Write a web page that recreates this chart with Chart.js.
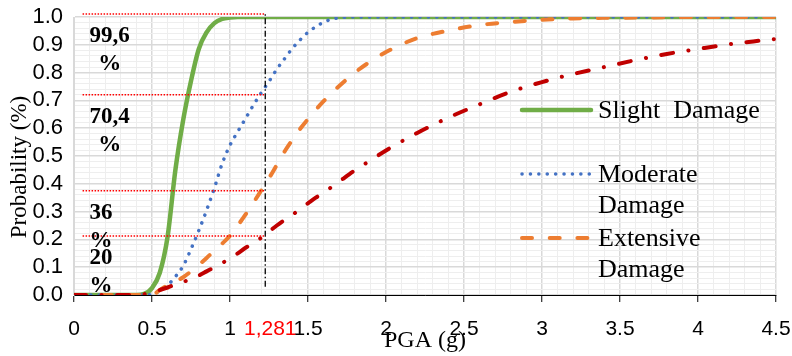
<!DOCTYPE html>
<html>
<head>
<meta charset="utf-8">
<title>Fragility curves</title>
<script src="https://cdn.jsdelivr.net/npm/chart.js@4.4.1/dist/chart.umd.min.js"></script>
<style>
  html, body { margin: 0; padding: 0; background: #fff; }
  canvas { display: block; }
</style>
</head>
<body>
<canvas id="fragility" width="792" height="356"></canvas>
<script>
// PGA (g) sample points shared by all curves
var pga = [0, 0.1, 0.2, 0.3, 0.4, 0.45, 0.5, 0.55, 0.6, 0.65, 0.7, 0.75, 0.8, 0.85, 0.9, 0.95,
  1.0, 1.05, 1.1, 1.15, 1.2, 1.25, 1.3, 1.35, 1.4, 1.45, 1.5, 1.55, 1.6, 1.65, 1.7, 1.8, 1.9, 2.0,
  2.2, 2.4, 2.6, 2.8, 3.0, 3.2, 3.4, 3.6, 3.8, 4.0, 4.2, 4.4, 4.5];

// probability of exceedance
var slightDamage = [0, 0, 0, 0, 0, 0.004, 0.025, 0.08, 0.21, 0.45, 0.63, 0.77, 0.885, 0.945, 0.978, 0.993,
  0.998, 1, 1, 1, 1, 1, 1, 1, 1, 1, 1, 1, 1, 1, 1, 1, 1, 1,
  1, 1, 1, 1, 1, 1, 1, 1, 1, 1, 1, 1, 1];
var moderateDamage = [0, 0, 0, 0, 0, 0, 0.003, 0.015, 0.035, 0.066, 0.105, 0.165, 0.232, 0.305, 0.385, 0.473,
  0.539, 0.588, 0.635, 0.683, 0.727, 0.768, 0.812, 0.85, 0.887, 0.918, 0.945, 0.965, 0.981, 0.992, 0.997, 1, 1, 1,
  1, 1, 1, 1, 1, 1, 1, 1, 1, 1, 1, 1, 1];
var extensiveDamage = [0, 0, 0, 0, 0, 0, 0, 0.018, 0.035, 0.048, 0.064, 0.085, 0.108, 0.133, 0.16, 0.185,
  0.213, 0.25, 0.29, 0.332, 0.376, 0.42, 0.468, 0.516, 0.558, 0.598, 0.633, 0.666, 0.697, 0.726, 0.752, 0.8, 0.84, 0.874,
  0.924, 0.951, 0.971, 0.982, 0.99, 0.995, 0.997, 0.998, 0.999, 1, 1, 1, 1];
var completeDamage = [0, 0, 0, 0, 0, 0.003, 0.01, 0.018, 0.027, 0.038, 0.047, 0.058, 0.07, 0.085, 0.1, 0.115,
  0.132, 0.15, 0.17, 0.186, 0.206, 0.228, 0.25, 0.27, 0.288, 0.31, 0.33, 0.35, 0.368, 0.388, 0.408, 0.448, 0.484, 0.52,
  0.583, 0.638, 0.686, 0.731, 0.766, 0.795, 0.82, 0.845, 0.867, 0.885, 0.902, 0.915, 0.921];

// reference marks at PGA = 1,281 g
var markerPga = 1.226;
var markerStart = 0.055;
var markerLevels = [1.011, 0.72, 0.375, 0.212];
var markerLabels = [['99,6', '%'], ['70,4', '%'], ['36', '%'], ['20', '%']];
var markerText = '1,281';

var legendNames = [['Slight  Damage'], ['Moderate', 'Damage'], ['Extensive', 'Damage']];

var serif = '"Liberation Serif", "Times New Roman", serif';
var sans = '"Liberation Sans", Arial, sans-serif';

var styles = [
  {color: '#70AD47', width: 4.5, dash: []},
  {color: '#4472C4', width: 3.5, dash: [0.1, 8.3]},
  {color: '#ED7D31', width: 4, dash: [10, 17.7]},
  {color: '#C00000', width: 4, dash: [12, 15.5, 0.1, 15.5]}
];

function points(values) {
  return pga.map(function(x, i) { return {x: x, y: values[i]}; });
}

function onStep(v, step) {
  var r = v / step;
  return Math.abs(r - Math.round(r)) < 1e-6;
}

function curve(label, values, style, order) {
  return {
    label: label,
    data: points(values),
    borderColor: style.color,
    borderWidth: style.width,
    borderDash: style.dash,
    borderCapStyle: 'round',
    cubicInterpolationMode: 'monotone',
    pointRadius: 0,
    fill: false,
    order: order
  };
}

var datasets = [
  curve('Slight Damage', slightDamage, styles[0], 8),
  curve('Moderate Damage', moderateDamage, styles[1], 7),
  curve('Extensive Damage', extensiveDamage, styles[2], 6),
  curve('Complete Damage', completeDamage, styles[3], 5)
];

markerLevels.forEach(function(level) {
  datasets.push({
    label: 'level',
    data: [{x: markerStart, y: level}, {x: markerPga, y: level}],
    borderColor: '#FF0000',
    borderWidth: 1.5,
    borderDash: [1.5, 1.5],
    pointRadius: 0,
    clip: false,
    order: 1
  });
});

datasets.push({
  label: 'pga',
  data: [{x: markerPga, y: 0.03}, {x: markerPga, y: 1.011}],
  borderColor: '#000000',
  borderWidth: 1.3,
  borderDash: [6, 2.5, 1.5, 2.5],
  pointRadius: 0,
  clip: false,
  order: 0
});

var textPlugin = {
  id: 'texts',
  afterDatasetsDraw: function(chart) {
    var ctx = chart.ctx;
    var xs = chart.scales.x;
    var ys = chart.scales.y;
    var area = chart.chartArea;
    ctx.save();

    // percentages next to the red levels
    ctx.fillStyle = '#000';
    ctx.font = 'bold 23px ' + serif;
    ctx.textBaseline = 'alphabetic';
    var left = xs.getPixelForValue(0.1);
    markerLabels.forEach(function(lines, i) {
      var y = ys.getPixelForValue(markerLevels[i]) + 28;
      var w = ctx.measureText(lines[0]).width;
      ctx.textAlign = 'left';
      ctx.fillText(lines[0], left, y);
      ctx.textAlign = 'center';
      ctx.fillText(lines[1], left + w / 2, y + 28);
    });

    // legend
    ctx.font = '26px ' + serif;
    ctx.textAlign = 'left';
    legendNames.forEach(function(lines, i) {
      var st = styles[i];
      var ly = 110 + i * 64;
      ctx.beginPath();
      ctx.strokeStyle = st.color;
      ctx.lineWidth = st.width;
      ctx.lineCap = 'round';
      ctx.setLineDash(st.dash);
      ctx.moveTo(522, ly);
      ctx.lineTo(591, ly);
      ctx.stroke();
      ctx.setLineDash([]);
      ctx.fillStyle = '#000';
      lines.forEach(function(t, j) {
        ctx.fillText(t, 598, ly + 8 + j * 31);
      });
    });

    // axis titles
    ctx.font = '24px ' + serif;
    ctx.textAlign = 'center';
    ctx.fillText('PGA (g)', (area.left + area.right) / 2, 347);
    ctx.save();
    ctx.translate(26, 167);
    ctx.rotate(-Math.PI / 2);
    ctx.font = '23px ' + serif;
    ctx.fillText('Probability (%)', 0, 0);
    ctx.restore();

    // PGA value of the marker
    ctx.font = '21px ' + sans;
    ctx.fillStyle = '#FF0000';
    ctx.textBaseline = 'middle';
    ctx.fillText(markerText, xs.getPixelForValue(markerPga) + 5, 329.6);
    ctx.restore();
  }
};

Chart.defaults.font.family = sans;
Chart.defaults.color = '#000';

new Chart('fragility', {
  type: 'line',
  data: {datasets: datasets},
  plugins: [textPlugin],
  options: {
    responsive: false,
    animation: false,
    layout: {padding: {top: 17, right: 16, bottom: 0, left: 0}},
    plugins: {legend: {display: false}, tooltip: {enabled: false}},
    scales: {
      x: {
        type: 'linear',
        min: 0,
        max: 4.5,
        afterFit: function(s) { s.height = 61; s.paddingLeft = 0; s.paddingRight = 0; },
        border: {color: '#000', width: 1},
        grid: {
          color: function(c) { return onStep(c.tick.value, 0.5) ? '#D9D9D9' : '#EEEEEE'; },
          lineWidth: function(c) { return onStep(c.tick.value, 0.5) ? 1.5 : 1; },
          tickColor: function(c) { return onStep(c.tick.value, 0.5) ? '#000' : 'rgba(0,0,0,0)'; },
          tickLength: 7,
          tickWidth: 1
        },
        ticks: {
          stepSize: 0.1,
          autoSkip: false,
          maxRotation: 0,
          minRotation: 0,
          padding: 15,
          font: {size: 21},
          callback: function(v) { return onStep(v, 0.5) ? String(Math.round(v * 10) / 10) : ''; }
        }
      },
      y: {
        min: 0,
        max: 1,
        afterFit: function(s) { s.width = 74; s.paddingTop = 0; s.paddingBottom = 0; },
        border: {color: '#D9D9D9'},
        grid: {
          color: function(c) { return onStep(c.tick.value, 0.1) ? '#D9D9D9' : '#EEEEEE'; },
          lineWidth: function(c) { return onStep(c.tick.value, 0.1) ? 1.5 : 1; },
          drawTicks: false
        },
        ticks: {
          stepSize: 0.02,
          autoSkip: false,
          padding: 11,
          font: {size: 22},
          callback: function(v) { return onStep(v, 0.1) ? v.toFixed(1) : ''; }
        }
      }
    }
  }
});
</script>
</body>
</html>
